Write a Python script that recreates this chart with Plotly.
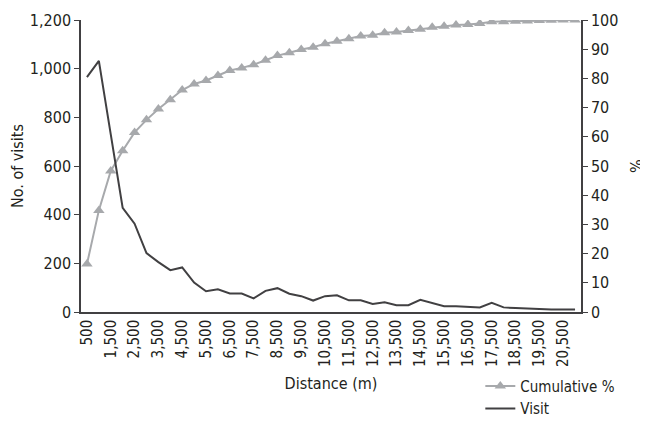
import plotly.graph_objects as go

distance = [500 + 500 * i for i in range(42)]
visits = [965, 1032, 730, 428, 363, 242, 205, 172, 183, 121,
          85, 93, 76, 76, 56, 87, 98, 75, 65, 47,
          65, 69, 48, 48, 33, 40, 28, 28, 50, 36,
          24, 24, 21, 19, 38, 19, 16, 13, 10, 10,
          10, 10]
cumulative = [16.4, 34.8, 48.3, 55.2, 61.5, 65.8, 69.5, 72.7, 76.0, 78.1,
              79.3, 81.0, 82.7, 83.6, 84.7, 86.2, 87.8, 88.8, 89.9, 90.7,
              91.9, 92.7, 93.6, 94.5, 94.8, 95.6, 95.9, 96.4, 96.8, 97.5,
              97.9, 98.3, 98.5, 98.8, 99.4, 99.4, 99.6, 99.7, 99.8, 99.9,
              100.0, 100.0]
tick_vals = [500 + 1000 * i for i in range(21)]
tick_text = [f"{v:,}" for v in tick_vals]
left_ticks = [0, 200, 400, 600, 800, 1000, 1200]
right_ticks = [0, 10, 20, 30, 40, 50, 60, 70, 80, 90, 100]

FONT = "Liberation Sans Narrow, DejaVu Sans Condensed, Roboto, sans-serif"
TXT = "#231f20"

fig = go.Figure()
fig.add_trace(go.Scatter(
    x=distance, y=cumulative, name="Cumulative %", yaxis="y",
    mode="lines+markers",
    line=dict(color="#a7a9ac", width=2),
    marker=dict(symbol="triangle-up", size=10, color="#a7a9ac"),
))
fig.add_trace(go.Scatter(
    x=distance, y=visits, name="Visit", yaxis="y2",
    mode="lines",
    line=dict(color="#414042", width=2),
))

# page body has an 8px margin, so the figure is 8px smaller and shifted
fig.update_layout(
    width=640, height=413,
    margin=dict(l=73, r=67, t=12, b=109, autoexpand=False),
    paper_bgcolor="white", plot_bgcolor="white",
    font=dict(family=FONT, color=TXT, size=15),
    showlegend=True,
    legend=dict(xref="container", yref="container", x=0.738, y=0.124,
                xanchor="left", yanchor="top",
                bgcolor="rgba(0,0,0,0)", tracegroupgap=0,
                font=dict(size=15), itemwidth=30),
    xaxis=dict(
        range=[250, 21250], tickmode="array", tickvals=tick_vals,
        ticktext=tick_text, tickangle=-90, showgrid=False, zeroline=False,
        showline=True, linecolor="#414042", linewidth=1.5, ticks="",
        tickfont=dict(size=15), automargin=False,
        title=dict(text="Distance (m)", standoff=12, font=dict(size=16)),
    ),
    yaxis=dict(
        side="right", range=[0, 100], tickvals=right_ticks,
        showgrid=False, zeroline=False, showline=True,
        linecolor="#414042", linewidth=1.5, ticks="outside", ticklen=5,
        tickcolor="#414042", tickfont=dict(size=16), automargin=False,
    ),
    yaxis2=dict(
        side="left", overlaying="y", range=[0, 1200], tickvals=left_ticks,
        tickformat=",", showgrid=False, zeroline=False, showline=True,
        linecolor="#414042", linewidth=1.5, ticks="outside", ticklen=5,
        tickcolor="#414042", tickfont=dict(size=16), automargin=False,
        title=dict(text="No. of visits", font=dict(size=16), standoff=10),
    ),
    annotations=[dict(text="%", xref="paper", yref="paper", x=1.11, y=0.5,
                      xanchor="center", yanchor="middle", showarrow=False,
                      textangle=-90, font=dict(size=16, color=TXT))],
)

fig.write_html("out.html")
